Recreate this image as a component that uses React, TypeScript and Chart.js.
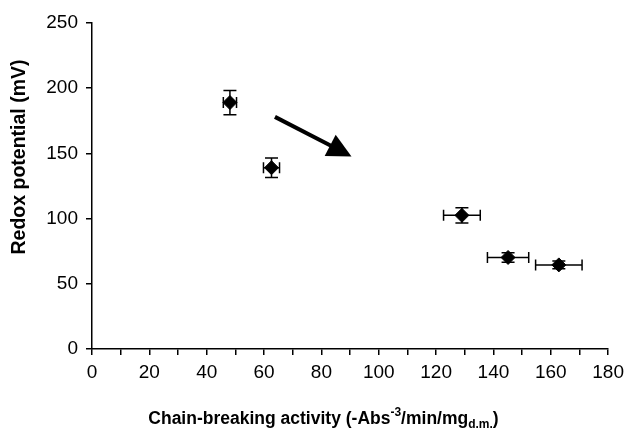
import React, { useEffect, useRef } from "react";
import { Chart, registerables } from "chart.js";

Chart.register(...registerables);

const activity = [48.1, 62.6, 129, 145.1, 162.8];
const activityErr = [2.3, 2.8, 6.4, 7.2, 8.1];
const redox = [189, 139, 102.5, 70.2, 64.5];
const redoxErr = [9.3, 7.4, 5.8, 3.6, 3.0];
const arrowStart = [63.8, 178];
const arrowEnd = [90.5, 147.7];
const xTicks = [0, 20, 40, 60, 80, 100, 120, 140, 160, 180];
const yTicks = [0, 50, 100, 150, 200, 250];
const yTitle = "Redox potential (mV)";
const xTitleMain = "Chain-breaking activity (-Abs";
const xTitleSup = "-3";
const xTitleMid = "/min/mg";
const xTitleSub = "d.m.";
const xTitleEnd = ")";

const FONT = "'Liberation Sans', Arial, sans-serif";

const overlayPlugin = {
  id: "overlay",
  beforeDatasetsDraw(chart: any) {
    const { ctx } = chart;
    const xs = chart.scales.x;
    const ys = chart.scales.y;
    ctx.save();
    ctx.strokeStyle = "#000";
    ctx.lineWidth = 1.5;
    for (let i = 0; i < activity.length; i++) {
      const cx = xs.getPixelForValue(activity[i]);
      const cy = ys.getPixelForValue(redox[i]);
      const x1 = xs.getPixelForValue(activity[i] - activityErr[i]);
      const x2 = xs.getPixelForValue(activity[i] + activityErr[i]);
      const y1 = ys.getPixelForValue(redox[i] + redoxErr[i]);
      const y2 = ys.getPixelForValue(redox[i] - redoxErr[i]);
      ctx.beginPath();
      ctx.moveTo(x1, cy); ctx.lineTo(x2, cy);
      ctx.moveTo(x1, cy - 5.5); ctx.lineTo(x1, cy + 5.5);
      ctx.moveTo(x2, cy - 5.5); ctx.lineTo(x2, cy + 5.5);
      ctx.moveTo(cx, y1); ctx.lineTo(cx, y2);
      ctx.moveTo(cx - 6.5, y1); ctx.lineTo(cx + 6.5, y1);
      ctx.moveTo(cx - 6.5, y2); ctx.lineTo(cx + 6.5, y2);
      ctx.stroke();
    }
    // arrow
    const ax = xs.getPixelForValue(arrowStart[0]);
    const ay = ys.getPixelForValue(arrowStart[1]);
    const bx = xs.getPixelForValue(arrowEnd[0]);
    const by = ys.getPixelForValue(arrowEnd[1]);
    const dx = bx - ax, dy = by - ay;
    const len = Math.hypot(dx, dy);
    const ux = dx / len, uy = dy / len;
    const headLen = 24, headHalf = 12;
    const bxBase = bx - ux * headLen, byBase = by - uy * headLen;
    ctx.lineWidth = 4;
    ctx.beginPath();
    ctx.moveTo(ax, ay);
    ctx.lineTo(bxBase + ux * 2, byBase + uy * 2);
    ctx.stroke();
    ctx.fillStyle = "#000";
    ctx.beginPath();
    ctx.moveTo(bx, by);
    ctx.lineTo(bxBase - uy * headHalf, byBase + ux * headHalf);
    ctx.lineTo(bxBase + uy * headHalf, byBase - ux * headHalf);
    ctx.closePath();
    ctx.fill();
    ctx.restore();
  },
  afterDraw(chart: any) {
    const { ctx } = chart;
    ctx.save();
    ctx.fillStyle = "#000";
    // y title
    ctx.save();
    ctx.translate(20, 157);
    ctx.rotate(-Math.PI / 2);
    ctx.font = `bold 19.5px ${FONT}`;
    ctx.textAlign = "center";
    ctx.textBaseline = "middle";
    ctx.fillText(yTitle, 0, 0);
    ctx.restore();
    // x title with sup/sub
    const big = `bold 17.5px ${FONT}`;
    const small = `bold 12px ${FONT}`;
    ctx.font = big;
    const w1 = ctx.measureText(xTitleMain).width;
    const w3 = ctx.measureText(xTitleMid).width;
    const w5 = ctx.measureText(xTitleEnd).width;
    ctx.font = small;
    const w2 = ctx.measureText(xTitleSup).width;
    const w4 = ctx.measureText(xTitleSub).width;
    const total = w1 + w2 + w3 + w4 + w5;
    const cx = 323.5;
    let x = cx - total / 2;
    const base = 424;
    ctx.textAlign = "left";
    ctx.textBaseline = "alphabetic";
    ctx.font = big;
    ctx.fillText(xTitleMain, x, base); x += w1;
    ctx.font = small;
    ctx.fillText(xTitleSup, x, base - 8); x += w2;
    ctx.font = big;
    ctx.fillText(xTitleMid, x, base); x += w3;
    ctx.font = small;
    ctx.fillText(xTitleSub, x, base + 4); x += w4;
    ctx.font = big;
    ctx.fillText(xTitleEnd, x, base);
    ctx.restore();
  },
};

export default function App() {
  const ref = useRef<HTMLCanvasElement | null>(null);
  useEffect(() => {
    document.body.style.margin = "0";
    const canvas = ref.current!;
    const chart = new Chart(canvas, {
      type: "scatter",
      data: {
        datasets: [
          {
            data: activity.map((v, i) => ({ x: v, y: redox[i] })),
            pointStyle: "rectRot",
            pointRadius: 7,
            pointBackgroundColor: "#000",
            pointBorderColor: "#000",
            borderWidth: 1,
          },
        ],
      },
      options: {
        animation: false,
        responsive: false,
        maintainAspectRatio: false,
        layout: { padding: { left: 0, right: 19, top: 23, bottom: 0 } },
        plugins: { legend: { display: false }, tooltip: { enabled: false } },
        scales: {
          x: {
            type: "linear",
            min: 0,
            max: 180,
            afterBuildTicks: (s: any) => {
              const t: any[] = [];
              for (let v = 0; v <= 180; v += 10) t.push({ value: v });
              s.ticks = t;
            },
            afterFit: (s: any) => { s.height = 80; },
            ticks: {
              autoSkip: false,
              maxRotation: 0,
              padding: 6,
              color: "#000",
              font: { family: FONT, size: 19 },
              callback: (v: any) => (xTicks.includes(v) ? String(v) : ""),
            },
            grid: { drawOnChartArea: false, tickLength: 6, color: "#000", lineWidth: 1.5 },
            border: { color: "#000", width: 1.5 },
          },
          y: {
            type: "linear",
            min: 0,
            max: 250,
            afterBuildTicks: (s: any) => { s.ticks = yTicks.map((v) => ({ value: v })); },
            afterFit: (s: any) => { s.width = 92; },
            ticks: {
              padding: 8,
              color: "#000",
              font: { family: FONT, size: 19 },
            },
            grid: { drawOnChartArea: false, tickLength: 6, color: "#000", lineWidth: 1.5 },
            border: { color: "#000", width: 1.5 },
          },
        },
      },
      plugins: [overlayPlugin],
    } as any);
    return () => chart.destroy();
  }, []);
  return <canvas ref={ref} width={630} height={429} style={{ display: "block" }} />;
}
